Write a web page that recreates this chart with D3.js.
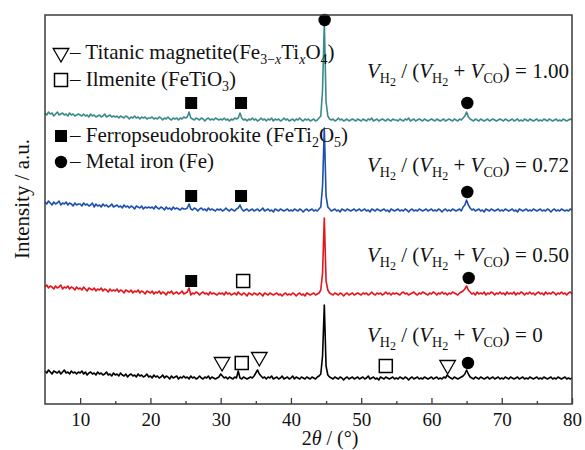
<!DOCTYPE html>
<html>
<head>
<meta charset="utf-8">
<script src="https://cdn.jsdelivr.net/npm/d3@7"></script>
<style>
  body { margin: 0; background: #fff; }
</style>
</head>
<body>
<div id="chart"></div>
<script>
// 2θ grid of the scans: 5° to 80°, one reading every 0.25°
const angleStart = 5,
  angleStep = 0.25;

// V_H2 / (V_H2 + V_CO) of each scan, bottom to top
const ratios = ['0', '0.50', '0.72', '1.00'];
// vertical stacking offset of each scan (a.u.)
const offsets = [20, 105, 188, 278];

// intensities (a.u.), one row = 5°
const scan000 = [
  13, 11, 14, 12, 10, 13, 12, 11, 13, 10, 12, 14, 11, 12, 10, 13, 11, 12, 10, 12,
  11, 13, 10, 12, 9, 11, 12, 10, 11, 9, 12, 10, 11, 9, 10, 12, 9, 10, 8, 11,
  9, 10, 8, 11, 9, 8, 10, 7, 9, 10, 8, 9, 7, 10, 8, 9, 7, 8, 10, 7,
  8, 6, 9, 7, 8, 6, 7, 9, 6, 8, 7, 5, 8, 6, 7, 8, 5, 7, 6, 8,
  6, 7, 5, 8, 6, 7, 5, 6, 8, 6, 5, 7, 6, 8, 5, 7, 6, 5, 6, 7,
  10, 8, 6, 7, 5, 7, 6, 5, 7, 6, 13, 6, 5, 7, 6, 5, 6, 7, 6, 8,
  11, 14, 10, 8, 6, 7, 5, 7, 6, 8, 5, 6, 7, 5, 6, 8, 5, 6, 7, 5,
  6, 8, 5, 7, 6, 5, 7, 6, 5, 7, 6, 5, 7, 6, 5, 7, 8, 10, 28, 79,
  18, 9, 7, 6, 5, 7, 6, 5, 7, 6, 4, 6, 7, 5, 6, 7, 5, 6, 7, 5,
  6, 7, 5, 6, 8, 5, 6, 7, 5, 6, 4, 7, 6, 5, 7, 6, 5, 6, 7, 5,
  6, 5, 7, 6, 5, 7, 6, 4, 6, 7, 5, 6, 7, 5, 6, 5, 7, 6, 5, 6,
  7, 5, 6, 7, 5, 6, 5, 7, 6, 9, 7, 6, 5, 7, 6, 5, 6, 7, 8, 10,
  14, 10, 7, 6, 5, 7, 6, 5, 7, 6, 5, 6, 7, 5, 6, 7, 5, 6, 7, 5,
  6, 5, 7, 6, 5, 7, 6, 5, 6, 7, 5, 6, 7, 5, 6, 5, 7, 6, 5, 6,
  7, 5, 6, 5, 7, 6, 5, 6, 7, 5, 6, 5, 7, 6, 5, 6, 7, 5, 6, 5,
  6,
];
const scan050 = [
  12, 14, 11, 13, 12, 10, 13, 11, 12, 14, 10, 12, 11, 13, 10, 12, 11, 9, 12, 10,
  11, 9, 12, 10, 8, 11, 10, 9, 11, 8, 10, 9, 11, 8, 10, 9, 7, 10, 8, 9,
  8, 10, 7, 9, 8, 6, 9, 8, 7, 9, 6, 8, 7, 9, 6, 8, 7, 5, 8, 7,
  6, 8, 5, 7, 6, 8, 5, 7, 6, 4, 7, 6, 8, 5, 6, 7, 5, 6, 8, 5,
  6, 7, 11, 4, 6, 5, 7, 6, 4, 6, 7, 5, 6, 4, 7, 5, 6, 5, 4, 6,
  5, 6, 4, 7, 5, 6, 4, 5, 6, 4, 7, 5, 4, 6, 5, 3, 6, 5, 4, 6,
  5, 4, 6, 5, 3, 6, 5, 4, 6, 5, 4, 5, 6, 4, 5, 3, 5, 6, 4, 5,
  4, 6, 5, 3, 5, 6, 4, 5, 3, 6, 5, 4, 5, 6, 4, 5, 6, 9, 26, 81,
  18, 9, 6, 5, 4, 6, 5, 4, 6, 5, 3, 5, 6, 4, 5, 6, 4, 5, 6, 5,
  4, 6, 5, 6, 4, 5, 7, 5, 4, 6, 5, 6, 4, 5, 7, 5, 6, 4, 6, 5,
  6, 5, 4, 6, 7, 5, 6, 4, 5, 6, 7, 5, 4, 6, 5, 7, 6, 5, 4, 6,
  5, 7, 6, 4, 6, 5, 7, 5, 6, 4, 6, 5, 7, 6, 5, 4, 6, 7, 8, 10,
  13, 9, 7, 5, 6, 4, 7, 5, 6, 5, 7, 4, 6, 5, 7, 6, 4, 6, 5, 7,
  5, 6, 4, 7, 5, 6, 5, 7, 4, 6, 5, 7, 6, 4, 6, 5, 7, 5, 6, 4,
  6, 7, 5, 6, 4, 7, 5, 6, 5, 7, 6, 4, 6, 5, 7, 5, 6, 4, 6, 7,
  5,
];
const scan072 = [
  14, 12, 15, 13, 11, 14, 12, 13, 15, 11, 13, 12, 14, 11, 13, 12, 10, 13, 11, 12,
  12, 10, 13, 11, 12, 10, 11, 13, 9, 12, 10, 11, 9, 12, 10, 11, 9, 10, 12, 9,
  10, 11, 9, 10, 8, 11, 9, 10, 8, 10, 9, 7, 10, 9, 8, 10, 7, 9, 8, 9,
  8, 9, 7, 10, 8, 7, 9, 8, 6, 9, 7, 8, 6, 9, 7, 8, 7, 6, 8, 7,
  7, 8, 12, 7, 6, 8, 7, 5, 7, 8, 6, 7, 5, 8, 6, 7, 6, 5, 7, 6,
  7, 5, 6, 8, 6, 5, 7, 6, 5, 7, 8, 11, 7, 5, 6, 7, 5, 6, 7, 5,
  6, 7, 5, 6, 8, 5, 6, 7, 5, 6, 4, 7, 6, 5, 7, 6, 5, 6, 7, 5,
  6, 5, 7, 6, 5, 7, 6, 4, 6, 7, 5, 6, 7, 5, 6, 5, 7, 9, 30, 88,
  20, 9, 7, 5, 6, 7, 5, 6, 4, 7, 6, 5, 7, 6, 5, 6, 7, 5, 6, 7,
  5, 6, 7, 5, 6, 4, 7, 6, 5, 7, 6, 5, 6, 7, 5, 6, 4, 7, 6, 5,
  6, 7, 5, 6, 5, 7, 6, 4, 6, 7, 5, 6, 5, 7, 6, 5, 6, 7, 5, 6,
  7, 5, 6, 5, 7, 6, 4, 6, 7, 5, 6, 5, 7, 6, 5, 6, 7, 5, 9, 11,
  16, 11, 8, 6, 7, 5, 6, 7, 5, 6, 4, 7, 6, 5, 7, 6, 5, 6, 7, 5,
  6, 5, 7, 6, 5, 6, 7, 5, 6, 4, 7, 6, 5, 6, 7, 5, 6, 5, 7, 6,
  5, 6, 7, 5, 6, 5, 7, 6, 4, 6, 7, 5, 6, 5, 7, 6, 5, 6, 5, 7,
  6,
];
const scan100 = [
  13, 11, 14, 12, 13, 10, 12, 14, 11, 12, 13, 11, 12, 10, 13, 11, 12, 10, 11, 12,
  11, 10, 12, 10, 11, 9, 12, 10, 11, 9, 10, 11, 9, 10, 12, 9, 10, 11, 9, 10,
  9, 10, 8, 10, 9, 8, 10, 9, 7, 9, 8, 10, 8, 9, 7, 9, 8, 9, 7, 8,
  8, 9, 7, 8, 7, 9, 8, 6, 8, 7, 9, 7, 6, 8, 7, 8, 6, 8, 7, 9,
  8, 9, 14, 8, 7, 6, 8, 7, 6, 8, 7, 5, 7, 8, 6, 7, 6, 8, 7, 6,
  7, 6, 8, 6, 7, 5, 7, 6, 8, 7, 8, 13, 8, 6, 7, 5, 7, 6, 8, 6,
  7, 5, 6, 8, 6, 7, 5, 7, 6, 8, 5, 7, 6, 7, 5, 6, 8, 6, 7, 5,
  6, 7, 5, 7, 6, 8, 6, 5, 7, 6, 7, 5, 6, 7, 5, 6, 8, 10, 36, 104,
  24, 10, 7, 6, 7, 5, 6, 8, 6, 7, 5, 6, 7, 5, 6, 7, 6, 5, 7, 6,
  5, 7, 6, 5, 7, 6, 8, 5, 6, 7, 5, 6, 7, 6, 5, 7, 6, 5, 7, 6,
  6, 5, 7, 6, 5, 7, 6, 8, 5, 6, 7, 5, 6, 7, 6, 5, 7, 6, 5, 6,
  7, 6, 5, 7, 6, 5, 6, 7, 5, 6, 7, 6, 5, 7, 6, 5, 7, 6, 8, 10,
  14, 9, 7, 6, 5, 7, 6, 5, 7, 6, 5, 6, 7, 5, 6, 7, 6, 5, 6, 7,
  6, 5, 7, 6, 5, 6, 7, 5, 6, 7, 5, 6, 5, 7, 6, 5, 7, 6, 5, 6,
  7, 5, 6, 5, 7, 6, 5, 7, 6, 5, 6, 7, 5, 6, 5, 7, 6, 5, 6, 7,
  6,
];
const scans = [scan000, scan050, scan072, scan100];
const lineColors = ['#000000', '#e5141b', '#1d4fae', '#3a8a8a'];

// phase markers: [scan index, 2θ, height above the scan offset, phase]
const markers = [
  [0, 30.2, 22, 'tri'],
  [0, 33.0, 21, 'ilm'],
  [0, 35.5, 27, 'tri'],
  [0, 53.5, 18, 'ilm'],
  [0, 62.3, 19, 'tri'],
  [0, 65.2, 21, 'fe'],
  [1, 25.8, 18, 'fps'],
  [1, 33.2, 18, 'ilm'],
  [1, 65.3, 21, 'fe'],
  [2, 25.8, 20, 'fps'],
  [2, 32.9, 20, 'fps'],
  [2, 65.1, 24, 'fe'],
  [3, 25.8, 23, 'fps'],
  [3, 32.9, 23, 'fps'],
  [3, 44.8, 106, 'fe'],
  [3, 65.1, 23, 'fe'],
];

const xMajorTicks = [10, 20, 30, 40, 50, 60, 70, 80];
const xMinorTicks = [15, 25, 35, 45, 55, 65, 75];

const serif = '"Liberation Serif", "Times New Roman", Times, serif';

const width = 585,
  height = 450,
  margin = { top: 15, right: 13, bottom: 46, left: 45 };

const x = d3
  .scaleLinear()
  .domain([5, 80])
  .range([margin.left, width - margin.right]);

const y = d3
  .scaleLinear()
  .domain([0, 389])
  .range([height - margin.bottom, margin.top]);

const svg = d3
  .select('#chart')
  .append('svg')
  .attr('width', width)
  .attr('height', height)
  .attr('font-family', serif);

// scans
const line = d3
  .line()
  .x((d, i) => x(angleStart + i * angleStep))
  .y((d) => d);

scans.forEach((scan, k) => {
  svg
    .append('path')
    .attr('fill', 'none')
    .attr('stroke', lineColors[k])
    .attr('stroke-width', 1.6)
    .attr('stroke-linejoin', 'round')
    .attr('d', line(scan.map((v) => y(v + offsets[k]))));
});

// marker shapes
function phaseSymbol(sel, phase) {
  if (phase === 'tri') {
    sel
      .append('path')
      .attr('d', d3.symbol().type(d3.symbolTriangle).size(105)())
      .attr('transform', 'rotate(180)')
      .attr('fill', '#fff')
      .attr('stroke', '#000')
      .attr('stroke-width', 1.3);
  } else if (phase === 'ilm') {
    sel
      .append('rect')
      .attr('x', -6.5)
      .attr('y', -6.5)
      .attr('width', 13)
      .attr('height', 13)
      .attr('fill', '#fff')
      .attr('stroke', '#000')
      .attr('stroke-width', 1.5);
  } else if (phase === 'fps') {
    sel
      .append('rect')
      .attr('x', -6)
      .attr('y', -6)
      .attr('width', 12)
      .attr('height', 12)
      .attr('fill', '#000');
  } else {
    sel.append('circle').attr('r', 6.2).attr('fill', '#000');
  }
}

markers.forEach(([k, angle, h, phase]) => {
  const g = svg
    .append('g')
    .attr('transform', `translate(${x(angle)},${y(offsets[k] + h)})`);
  phaseSymbol(g, phase);
});

// frame
svg
  .append('rect')
  .attr('x', margin.left)
  .attr('y', margin.top)
  .attr('width', width - margin.left - margin.right)
  .attr('height', height - margin.top - margin.bottom)
  .attr('fill', 'none')
  .attr('stroke', '#3c3c3c')
  .attr('stroke-width', 1.5);

// bottom axis, ticks pointing inward
const xAxis = svg
  .append('g')
  .attr('transform', `translate(0,${height - margin.bottom})`)
  .call(
    d3.axisBottom(x).tickValues(xMajorTicks).tickSize(-6).tickPadding(9)
  );
xAxis
  .append('g')
  .call(
    d3.axisBottom(x).tickValues(xMinorTicks).tickSize(-3).tickFormat('')
  );
xAxis.attr('font-family', serif);
xAxis.selectAll('.domain').remove();
xAxis.selectAll('line').attr('stroke', '#3c3c3c').attr('stroke-width', 1.3);
xAxis
  .selectAll('text')
  .attr('font-family', serif)
  .attr('font-size', 19)
  .attr('fill', '#111');

// text with sub/superscript runs: [string, style]
const runStyles = {
  n: { size: null, dy: 0, italic: false },
  i: { size: null, dy: 0, italic: true },
  s: { size: 14, dy: 5, italic: false },
  si: { size: 14, dy: 5, italic: true },
  ss: { size: 12, dy: 8, italic: false },
};

function richText(t, runs) {
  let cur = 0;
  runs.forEach(([s, style]) => {
    const st = runStyles[style || 'n'];
    const ts = t.append('tspan').text(s);
    if (st.size) ts.attr('font-size', st.size);
    if (st.italic) ts.attr('font-style', 'italic');
    if (st.dy !== cur) ts.attr('dy', st.dy - cur);
    cur = st.dy;
  });
}

// axis titles
richText(
  svg
    .append('text')
    .attr('x', 330)
    .attr('y', 445)
    .attr('text-anchor', 'middle')
    .attr('font-size', 20)
    .attr('fill', '#111'),
  [['2'], ['θ', 'i'], [' / (°)']]
);

svg
  .append('text')
  .attr('transform', 'translate(29,199) rotate(-90)')
  .attr('text-anchor', 'middle')
  .attr('font-size', 21)
  .attr('fill', '#111')
  .text('Intensity / a.u.');

// ratio labels
const ratioBaselines = [342, 262, 172, 78];
ratios.forEach((r, k) => {
  const t = svg
    .append('text')
    .attr('x', 367)
    .attr('y', ratioBaselines[k])
    .attr('font-size', 21)
    .attr('fill', '#111');
  richText(t, [
    ['V', 'i'], ['H', 's'], ['2', 'ss'], [' / ('],
    ['V', 'i'], ['H', 's'], ['2', 'ss'], [' + '],
    ['V', 'i'], ['CO', 's'], [`) = ${r}`],
  ]);
});

// legend
const legendRows = [
  { phase: 'tri', y: 59, runs: [['– Titanic magnetite(Fe'], ['3−', 's'], ['x', 'si'], ['Ti'], ['x', 'si'], ['O'], ['4', 's'], [')']] },
  { phase: 'ilm', y: 86, runs: [['– Ilmenite (FeTiO'], ['3', 's'], [')']] },
  { phase: 'fps', y: 142, runs: [['– Ferropseudobrookite (FeTi'], ['2', 's'], ['O'], ['5', 's'], [')']] },
  { phase: 'fe', y: 168, runs: [['– Metal iron (Fe)']] },
];

legendRows.forEach((row) => {
  const g = svg.append('g').attr('transform', `translate(61,${row.y - 6})`);
  phaseSymbol(g, row.phase);
  richText(
    svg
      .append('text')
      .attr('x', 70)
      .attr('y', row.y)
      .attr('font-size', 21)
      .attr('fill', '#111'),
    row.runs
  );
});
</script>
</body>
</html>
